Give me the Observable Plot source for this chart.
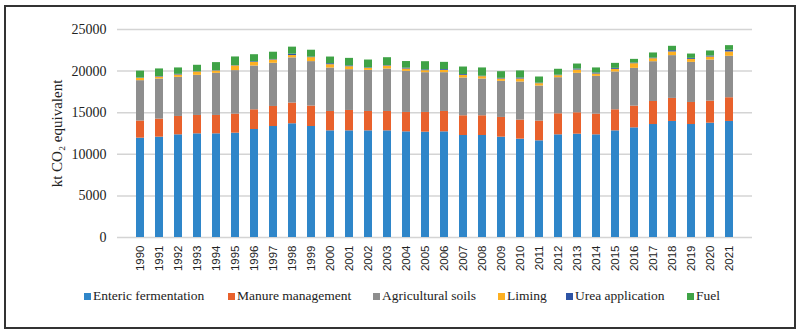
<!DOCTYPE html>
<html>
<head>
<meta charset="utf-8">
<script src="https://cdn.jsdelivr.net/npm/d3@7"></script>
<script src="https://cdn.jsdelivr.net/npm/@observablehq/plot@0.6"></script>
<style>
  html, body { margin: 0; padding: 0; background: #fff; }
  #frame { position: relative; width: 800px; height: 332px; overflow: hidden; }
  #border { position: absolute; left: 4px; top: 5px; width: 788px; height: 320px; border: 2px solid #333; }
  #chart { position: absolute; left: 0; top: 0; }
  #legend { position: absolute; left: 0; top: 288px; width: 800px; height: 18px;
    font-family: "Liberation Serif", "DejaVu Serif", serif; font-size: 13.5px; color: #222; }
  .item { position: absolute; top: 0; display: flex; align-items: center; white-space: nowrap; }
  .sw { width: 7px; height: 7px; margin-right: 2px; display: inline-block; }
</style>
</head>
<body>
<div id="frame">
  <div id="chart"></div>
  <div id="legend"></div>
  <div id="border"></div>
</div>
<script>
const years = ["1990","1991","1992","1993","1994","1995","1996","1997","1998","1999","2000","2001","2002","2003","2004","2005","2006","2007","2008","2009","2010","2011","2012","2013","2014","2015","2016","2017","2018","2019","2020","2021"];

const seriesNames = ["Enteric fermentation","Manure management","Agricultural soils","Liming","Urea application","Fuel"];
const seriesColors = ["#2F86C9","#E8612C","#8E8E8E","#FDB022","#2E54A5","#3FA346"];

const enteric = [11940,12060,12340,12460,12460,12540,12980,13340,13670,13340,12820,12820,12820,12820,12700,12660,12700,12260,12260,12060,11820,11620,12340,12420,12340,12820,13180,13580,13950,13580,13740,13950];
const manure  = [2060,2170,2210,2210,2210,2290,2370,2410,2490,2460,2330,2450,2330,2330,2330,2370,2450,2370,2370,2370,2290,2370,2530,2570,2490,2530,2610,2770,2770,2650,2650,2850];
const soils   = [4850,4820,4700,4820,5060,5230,5260,5190,5430,5340,5220,4900,4940,5100,4940,4780,4660,4540,4420,4340,4580,4220,4340,4740,4540,4540,4540,4780,5140,4820,4940,4980];
const liming  = [280,240,280,400,280,560,440,400,280,480,400,360,240,360,280,240,280,320,280,280,360,280,240,400,280,320,560,360,440,360,360,520];
const urea    = [40,60,80,40,40,40,80,60,160,60,120,100,60,60,100,100,100,100,60,80,120,60,60,120,120,120,80,80,160,120,120,200];
const fuel    = [830,910,770,770,970,1040,840,870,850,830,800,900,940,940,800,980,860,900,990,800,850,740,710,600,610,600,440,610,520,520,610,560];

const yTicks = [0,5000,10000,15000,20000,25000];

const seriesValues = [enteric, manure, soils, liming, urea, fuel];
const rows = [];
years.forEach((y, i) => {
  seriesNames.forEach((s, j) => rows.push({year: y, series: s, value: seriesValues[j][i]}));
});

const chart = Plot.plot({
  width: 800,
  height: 280,
  marginLeft: 117,
  marginRight: 48,
  marginTop: 29,
  marginBottom: 43,
  style: { background: "transparent" },
  x: { domain: years, padding: 0.58, label: null },
  y: { domain: [0, 25000], ticks: yTicks, label: null },
  color: { domain: seriesNames, range: seriesColors },
  marks: [
    Plot.gridY(yTicks, { stroke: "#D4D4D4", strokeOpacity: 1, strokeWidth: 1.5 }),
    Plot.barY(rows, { x: "year", y: "value", fill: "series", order: seriesNames }),
    Plot.axisY(yTicks, {
      tickSize: 0, tickPadding: 11, fontSize: 14,
      fontFamily: "Liberation Serif, serif", fill: "#222",
      tickFormat: d => String(d),
      label: "kt CO₂ equivalent", labelAnchor: "center", labelArrow: "none", labelOffset: 66
    }),
    Plot.axisX({
      tickSize: 0, tickPadding: 8, tickRotate: -90, fontSize: 11.5,
      fontFamily: "Liberation Sans, sans-serif", fill: "#222", label: null
    })
  ]
});
document.getElementById("chart").appendChild(chart);

// style the y axis label font
chart.querySelectorAll("g[aria-label='y-axis label'] text, g[aria-label='y-axis label']").forEach(el => {
  el.setAttribute("font-size", "15");
  el.setAttribute("font-family", "Liberation Serif, serif");
});

const legendX = [84, 228, 373, 498, 566, 687];
const legend = document.getElementById("legend");
seriesNames.forEach((s, i) => {
  const item = document.createElement("div");
  item.className = "item";
  item.style.left = legendX[i] + "px";
  const sw = document.createElement("span");
  sw.className = "sw";
  sw.style.background = seriesColors[i];
  const t = document.createElement("span");
  t.textContent = s;
  item.appendChild(sw);
  item.appendChild(t);
  legend.appendChild(item);
});
</script>
</body>
</html>
